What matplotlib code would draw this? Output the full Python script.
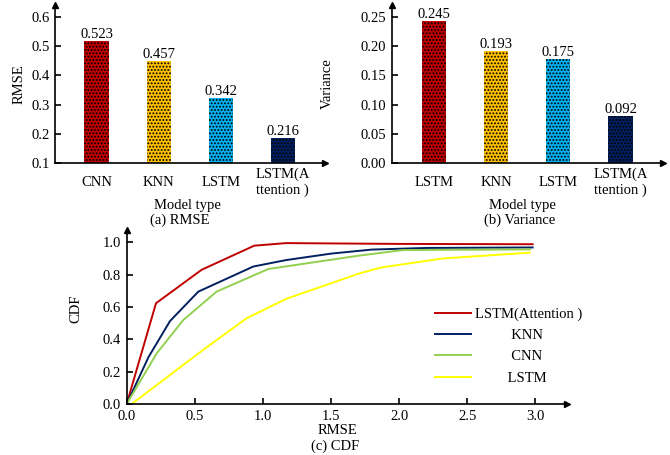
import numpy as np
import matplotlib.pyplot as plt
from matplotlib.lines import Line2D

plt.rcParams['font.family'] = 'Liberation Serif'
plt.rcParams['font.size'] = 10.5
plt.rcParams['hatch.linewidth'] = 0.9

# (a) RMSE
rmse_models = ['CNN', 'KNN', 'LSTM', 'LSTM(A\nttention )']
rmse_values = [0.523, 0.457, 0.342, 0.216]
rmse_bar_heights = [0.519, 0.449, 0.324, 0.186]

# (b) Variance
var_models = ['LSTM', 'KNN', 'LSTM', 'LSTM(A\nttention )']
var_values = [0.245, 0.193, 0.175, 0.092]
var_bar_heights = [0.244, 0.191, 0.178, 0.081]

bar_colors = ['#C00000', '#FFC000', '#00B0F0', '#002060']

# (c) CDF curves
cdf_labels = ['LSTM(Attention )', 'KNN', 'CNN', 'LSTM']
cdf_colors = ['#C00000', '#002060', '#92D050', '#FFFF00']
att_x = [0.0, 0.215, 0.55, 0.936, 1.17, 2.0, 2.98]
att_y = [0.0, 0.623, 0.83, 0.979, 0.995, 0.99, 0.988]
knn_x = [0.0, 0.16, 0.318, 0.526, 0.929, 1.17, 1.5, 1.8, 2.2, 2.98]
knn_y = [0.0, 0.29, 0.513, 0.695, 0.85, 0.89, 0.93, 0.955, 0.965, 0.968]
cnn_x = [0.0, 0.22, 0.416, 0.66, 1.04, 1.71, 2.03, 2.96]
cnn_y = [0.0, 0.313, 0.52, 0.695, 0.835, 0.918, 0.952, 0.956]
lstm_x = [0.037, 0.318, 0.56, 0.88, 1.17, 1.71, 1.86, 2.32, 2.96]
lstm_y = [0.0, 0.18, 0.334, 0.53, 0.65, 0.808, 0.843, 0.90, 0.936]
cdf_x = [att_x, knn_x, cnn_x, lstm_x]
cdf_y = [att_y, knn_y, cnn_y, lstm_y]

W, H = 670, 455
fig = plt.figure(figsize=(W / 100, H / 100), dpi=100)


def box(l, t, r, b):
    return [l / W, 1 - b / H, (r - l) / W, (b - t) / H]


def style_axes(ax):
    for s in ['top', 'right']:
        ax.spines[s].set_visible(False)
    for s in ['left', 'bottom']:
        ax.spines[s].set_linewidth(1.2)
    ax.plot(1, 0, '>k', ms=5, transform=ax.transAxes, clip_on=False)
    ax.plot(0, 1, '^k', ms=5, transform=ax.transAxes, clip_on=False)
    ax.tick_params(direction='in', length=4, width=1.2, pad=4, labelsize=10.5)


def bar_panel(ax, names, labels, heights, ylim, yticks, fmt, ylabel):
    x = np.arange(len(names))
    base = ylim[0]
    ax.bar(x, [h - base for h in heights], width=0.39, bottom=base,
           color=bar_colors, edgecolor='black', linewidth=0, hatch='.....')
    for xi, h, v in zip(x, heights, labels):
        ax.text(xi, h, f'{v:.3f}', ha='center', va='bottom', fontsize=10.5)
    ax.set_xlim(-0.67, 3.68)
    ax.set_ylim(*ylim)
    ax.set_yticks(yticks)
    ax.set_yticklabels([fmt.format(t) for t in yticks])
    ax.set_xticks(x)
    ax.set_xticklabels(names, linespacing=1.2, va='center')
    style_axes(ax)
    ax.tick_params(axis='x', length=0, pad=14)
    ax.set_ylabel(ylabel)


ax1 = fig.add_axes(box(55, 5, 325, 163))
bar_panel(ax1, rmse_models, rmse_values, rmse_bar_heights, (0.1, 0.641),
          [0.1, 0.2, 0.3, 0.4, 0.5, 0.6], '{:.1f}', 'RMSE')
ax1.yaxis.set_label_coords(-0.11, 0.5)
fig.text(187 / W, 1 - 206 / H, 'Model type', ha='center', va='center')
fig.text(180 / W, 1 - 220 / H, '(a) RMSE', ha='center', va='center')

ax2 = fig.add_axes(box(392, 5, 663, 163))
bar_panel(ax2, var_models, var_values, var_bar_heights, (0.0, 0.2706),
          [0.0, 0.05, 0.10, 0.15, 0.20, 0.25], '{:.2f}', 'Variance')
ax2.yaxis.set_label_coords(-0.215, 0.5)
fig.text(522 / W, 1 - 206 / H, 'Model type', ha='center', va='center')
fig.text(520 / W, 1 - 220 / H, '(b) Variance', ha='center', va='center')

ax3 = fig.add_axes(box(126.7, 230, 566.7, 404))
for xs, ys, c, lab in zip(cdf_x, cdf_y, cdf_colors, cdf_labels):
    ax3.plot(xs, ys, color=c, lw=1.4, label=lab)
ax3.set_xlim(0, 3.23)
ax3.set_ylim(0, 1.076)
ax3.set_xticks([0.0, 0.5, 1.0, 1.5, 2.0, 2.5, 3.0])
ax3.set_yticks([0.0, 0.2, 0.4, 0.6, 0.8, 1.0])
ax3.xaxis.set_major_formatter(plt.FormatStrFormatter('%.1f'))
ax3.yaxis.set_major_formatter(plt.FormatStrFormatter('%.1f'))
style_axes(ax3)
ax3.set_ylabel('CDF')
ax3.yaxis.set_label_coords(-0.1, 0.55)

# legend with centred labels
handles = [Line2D([], [], color=c, lw=1.4) for c in cdf_colors]
pad = ['', ' ' * 10, ' ' * 10, ' ' * 9]
leg = ax3.legend(handles, [p + l for p, l in zip(pad, cdf_labels)],
                 loc='upper left', bbox_to_anchor=(0.67, 0.63), frameon=False,
                 handlelength=2.5, handletextpad=0.3, labelspacing=0.55,
                 fontsize=10.5)

fig.text(337 / W, 1 - 431 / H, 'RMSE', ha='center', va='center')
fig.text(335 / W, 1 - 446 / H, '(c) CDF', ha='center', va='center')

fig.savefig('out.png', dpi=100)
